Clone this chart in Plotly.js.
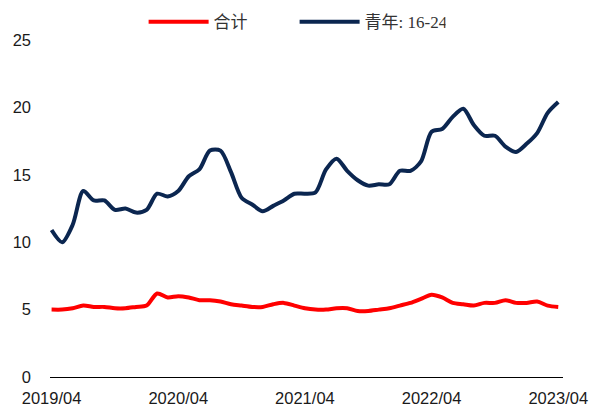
<!DOCTYPE html>
<html>
<head>
<meta charset="utf-8">
<script src="https://cdn.plot.ly/plotly-3.0.1.min.js"></script>
<style>
  html, body { margin: 0; padding: 0; background: #fff; }
  #chart { width: 591px; height: 409px; }
</style>
</head>
<body>
<div id="chart"></div>
<script>
const months = [
  '2019/04', '2019/05', '2019/06', '2019/07', '2019/08', '2019/09', '2019/10', '2019/11', '2019/12',
  '2020/01', '2020/02', '2020/03', '2020/04', '2020/05', '2020/06', '2020/07', '2020/08', '2020/09', '2020/10', '2020/11', '2020/12',
  '2021/01', '2021/02', '2021/03', '2021/04', '2021/05', '2021/06', '2021/07', '2021/08', '2021/09', '2021/10', '2021/11', '2021/12',
  '2022/01', '2022/02', '2022/03', '2022/04', '2022/05', '2022/06', '2022/07', '2022/08', '2022/09', '2022/10', '2022/11', '2022/12',
  '2023/01', '2023/02', '2023/03', '2023/04'
];

// 合计
const total = [
  5.0, 5.0, 5.1, 5.3, 5.2, 5.2, 5.1, 5.1, 5.2,
  5.3, 6.2, 5.9, 6.0, 5.9, 5.7, 5.7, 5.6, 5.4, 5.3, 5.2, 5.2,
  5.4, 5.5, 5.3, 5.1, 5.0, 5.0, 5.1, 5.1, 4.9, 4.9, 5.0, 5.1,
  5.3, 5.5, 5.8, 6.1, 5.9, 5.5, 5.4, 5.3, 5.5, 5.5, 5.7, 5.5,
  5.5, 5.6, 5.3, 5.2
];

// 青年: 16-24
const youth = [
  10.9, 10.0, 11.3, 13.8, 13.1, 13.1, 12.4, 12.5, 12.2,
  12.4, 13.6, 13.4, 13.8, 14.9, 15.4, 16.8, 16.8, 15.2, 13.3, 12.8, 12.3,
  12.7, 13.1, 13.6, 13.6, 13.7, 15.4, 16.2, 15.3, 14.6, 14.2, 14.3, 14.3,
  15.3, 15.3, 16.0, 18.2, 18.4, 19.3, 19.9, 18.7, 17.9, 17.9, 17.1, 16.7,
  17.3, 18.1, 19.6, 20.4
];

const tickMonths = ['2019/04', '2020/04', '2021/04', '2022/04', '2023/04'];
const yTicks = [0, 5, 10, 15, 20, 25];

const data = [
  {
    x: months,
    y: total,
    name: '合计',
    mode: 'lines',
    type: 'scatter',
    line: { color: '#ff0000', width: 4, shape: 'spline', smoothing: 0.8 },
    hoverinfo: 'skip'
  },
  {
    x: months,
    y: youth,
    name: '青年: 16-24',
    mode: 'lines',
    type: 'scatter',
    line: { color: '#0b2650', width: 4, shape: 'spline', smoothing: 0.8 },
    hoverinfo: 'skip'
  }
];

const layout = {
  width: 591,
  height: 409,
  margin: { l: 50, r: 28, t: 40, b: 32 },
  paper_bgcolor: '#ffffff',
  plot_bgcolor: '#ffffff',
  showlegend: true,
  legend: {
    orientation: 'h',
    xref: 'container',
    yref: 'container',
    x: 0.243,
    y: 0.99,
    xanchor: 'left',
    yanchor: 'top',
    itemwidth: 60,
    entrywidth: 76,
    entrywidthmode: 'pixels',
    font: { family: 'Liberation Serif, Noto Sans CJK SC, serif', size: 17, color: '#333333' },
    bgcolor: 'rgba(0,0,0,0)'
  },
  xaxis: {
    type: 'category',
    range: [-0.15, 48.45],
    tickmode: 'array',
    tickvals: tickMonths,
    ticktext: tickMonths,
    showgrid: false,
    zeroline: false,
    showline: true,
    linecolor: '#000000',
    linewidth: 1,
    ticks: '',
    ticklabelstandoff: 6,
    tickfont: { family: 'Liberation Sans, sans-serif', size: 16.5, color: '#1a1a1a' }
  },
  yaxis: {
    range: [0, 25],
    tickmode: 'array',
    tickvals: yTicks,
    showgrid: false,
    zeroline: false,
    showline: false,
    ticks: '',
    ticklabelstandoff: 18,
    tickfont: { family: 'Liberation Sans, sans-serif', size: 16.5, color: '#1a1a1a' }
  }
};

Plotly.newPlot('chart', data, layout, { displayModeBar: false, staticPlot: true });
</script>
</body>
</html>
